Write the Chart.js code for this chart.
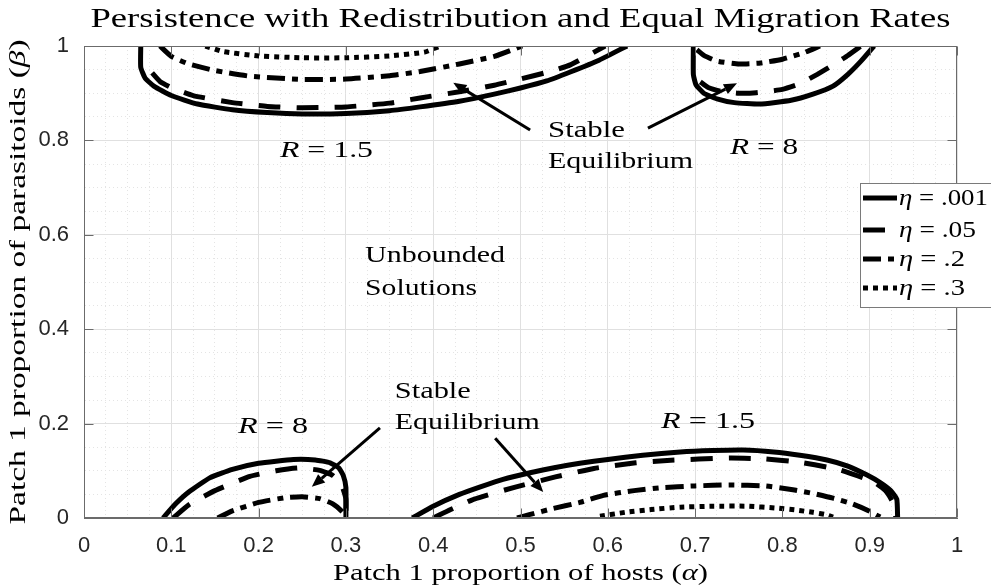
<!DOCTYPE html>
<html>
<head>
<meta charset="utf-8">
<script src="https://cdn.jsdelivr.net/npm/chart.js@4.4.0/dist/chart.umd.min.js"></script>
<style>
  body { margin: 0; background: #fff; }
  canvas { display: block; }
</style>
</head>
<body>
<canvas id="chart" width="991" height="588"></canvas>
<script>
const etaValues = ['.001', '.05', '.2', '.3'];

// upper branch, R = 1.5  [alpha, beta]
const upR15Eta001 = [[0.065,1.0],[0.065,0.955],[0.07,0.932],[0.08,0.915],[0.1,0.895],[0.13,0.877],[0.17,0.865],[0.21,0.859],[0.25,0.856],[0.3,0.857],[0.35,0.863],[0.385,0.871],[0.43,0.883],[0.47,0.898],[0.5,0.911],[0.53,0.926],[0.557,0.945],[0.59,0.97],[0.622,1.0]];
const upR15Eta05 = [[0.078,0.943],[0.087,0.925],[0.1,0.912],[0.125,0.895],[0.17,0.88],[0.21,0.872],[0.25,0.869],[0.3,0.871],[0.35,0.879],[0.385,0.89],[0.43,0.903],[0.47,0.917],[0.5,0.93],[0.53,0.944],[0.557,0.96],[0.597,1.0]];
const upR15Eta2 = [[0.087,1.0],[0.1,0.978],[0.12,0.962],[0.15,0.948],[0.19,0.936],[0.25,0.929],[0.3,0.93],[0.35,0.937],[0.385,0.946],[0.43,0.962],[0.47,0.978],[0.502,1.0]];
const upR15Eta3 = [[0.139,1.0],[0.16,0.988],[0.2,0.979],[0.25,0.975],[0.3,0.975],[0.35,0.979],[0.39,0.987],[0.408,1.0]];

// upper branch, R = 8
const upR8Eta001 = [[0.698,1.0],[0.698,0.94],[0.701,0.918],[0.71,0.9],[0.725,0.888],[0.745,0.88],[0.774,0.877],[0.81,0.885],[0.835,0.898],[0.858,0.915],[0.875,0.94],[0.89,0.968],[0.905,1.0]];
const upR8Eta05 = [[0.706,0.924],[0.715,0.912],[0.73,0.904],[0.75,0.9],[0.77,0.901],[0.8,0.908],[0.82,0.92],[0.84,0.94],[0.86,0.962],[0.875,0.98],[0.89,1.0]];
const upR8Eta2 = [[0.702,0.992],[0.71,0.98],[0.725,0.968],[0.75,0.962],[0.775,0.964],[0.8,0.972],[0.825,0.986],[0.843,1.0]];

// lower branch, R = 8
const lowR8Eta001 = [[0.0905,0.0],[0.105,0.03],[0.12,0.055],[0.144,0.085],[0.17,0.103],[0.2,0.116],[0.24,0.124],[0.265,0.123],[0.282,0.117],[0.292,0.106],[0.297,0.09],[0.3,0.065],[0.3,0.0]];
const lowR8Eta05 = [[0.102,0.0],[0.12,0.028],[0.15,0.058],[0.19,0.088],[0.22,0.1],[0.245,0.106],[0.27,0.101],[0.285,0.09],[0.295,0.07],[0.3,0.04],[0.3,0.0]];
const lowR8Eta2 = [[0.153,0.0],[0.17,0.015],[0.2,0.033],[0.23,0.043],[0.25,0.045],[0.27,0.041],[0.285,0.03],[0.296,0.013],[0.3,0.0]];

// lower branch, R = 1.5
const lowR15Eta001 = [[0.376,0.0],[0.4,0.025],[0.43,0.05],[0.454,0.066],[0.48,0.082],[0.511,0.096],[0.54,0.107],[0.568,0.116],[0.6,0.124],[0.64,0.133],[0.683,0.14],[0.72,0.143],[0.755,0.144],[0.79,0.14],[0.82,0.133],[0.851,0.123],[0.875,0.11],[0.897,0.091],[0.912,0.075],[0.924,0.058],[0.931,0.04],[0.932,0.0]];
const lowR15Eta05 = [[0.4,0.0],[0.42,0.018],[0.447,0.04],[0.493,0.065],[0.54,0.087],[0.584,0.105],[0.632,0.117],[0.668,0.122],[0.74,0.127],[0.78,0.125],[0.82,0.118],[0.866,0.102],[0.904,0.077],[0.918,0.058],[0.926,0.035],[0.93,0.0]];
const lowR15Eta2 = [[0.496,0.0],[0.51,0.007],[0.537,0.02],[0.568,0.033],[0.595,0.048],[0.63,0.058],[0.66,0.064],[0.7,0.068],[0.74,0.07],[0.78,0.068],[0.812,0.06],[0.835,0.052],[0.858,0.042],[0.88,0.03],[0.898,0.016],[0.912,0.002]];
const lowR15Eta3 = [[0.591,0.004],[0.62,0.012],[0.65,0.018],[0.683,0.023],[0.72,0.025],[0.76,0.025],[0.793,0.021],[0.815,0.017],[0.835,0.012],[0.85,0.007],[0.858,0.002]];

// arrows: tail alpha, tail beta, head alpha, head beta
const arrows = [
  [0.511, 0.822, 0.423, 0.922],
  [0.646, 0.826, 0.748, 0.921],
  [0.339, 0.191, 0.261, 0.066],
  [0.471, 0.169, 0.526, 0.055]
];

// text notes: [alpha, beta] of left baseline
const notes = [
  { at: [0.2245, 0.765], parts: [['R', true], [' = 1.5']], w: 93 },
  { at: [0.5315, 0.807], parts: [['Stable']], w: 77 },
  { at: [0.5315, 0.7415], parts: [['Equilibrium']], w: 145 },
  { at: [0.74, 0.771], parts: [['R', true], [' = 8']], w: 68 },
  { at: [0.322, 0.542], parts: [['Unbounded']], w: 140 },
  { at: [0.322, 0.472], parts: [['Solutions']], w: 112 },
  { at: [0.1764, 0.18], parts: [['R', true], [' = 8']], w: 70 },
  { at: [0.356, 0.254], parts: [['Stable']], w: 76 },
  { at: [0.356, 0.189], parts: [['Equilibrium']], w: 145 },
  { at: [0.661, 0.191], parts: [['R', true], [' = 1.5']], w: 94 }
];

const serif = '"Liberation Serif", "Times New Roman", serif';
const sans = '"Liberation Sans", Arial, Helvetica, sans-serif';

const styles = [
  { dash: [] },
  { dash: [22, 16] },
  { dash: [18, 7, 6, 7] },
  { dash: [5, 5] }
];

const curves = [
  [upR15Eta001, 0], [upR15Eta05, 1], [upR15Eta2, 2], [upR15Eta3, 3],
  [upR8Eta001, 0], [upR8Eta05, 1], [upR8Eta2, 2],
  [lowR8Eta001, 0], [lowR8Eta05, 1], [lowR8Eta2, 2],
  [lowR15Eta001, 0], [lowR15Eta05, 1], [lowR15Eta2, 2], [lowR15Eta3, 3]
];

const isMajor = (v, step) => Math.abs(v / step - Math.round(v / step)) < 1e-6;
const fmt = v => (Math.abs(v) < 1e-9 ? '0' : Math.abs(v - 1) < 1e-9 ? '1' : v.toFixed(1));

// draws text pieces (some italic) squeezed/stretched to a given width
function drawText(ctx, parts, x, y, size, width, align) {
  let total = 0;
  const widths = parts.map(([t, it]) => {
    ctx.font = (it ? 'italic ' : '') + size + 'px ' + serif;
    const w = ctx.measureText(t).width;
    total += w;
    return w;
  });
  const sx = width ? width / total : 1;
  ctx.save();
  ctx.translate(x, y);
  ctx.scale(sx, 1);
  ctx.textAlign = 'left';
  ctx.textBaseline = 'alphabetic';
  ctx.fillStyle = '#000';
  let cx = align === 'center' ? -total / 2 : 0;
  parts.forEach(([t, it], i) => {
    ctx.font = (it ? 'italic ' : '') + size + 'px ' + serif;
    ctx.fillText(t, cx, 0);
    cx += widths[i];
  });
  ctx.restore();
}

const decor = {
  id: 'decor',
  afterDraw(chart) {
    const { ctx, chartArea: a, scales: { x, y } } = chart;
    ctx.save();

    // axes box and inward ticks
    ctx.strokeStyle = '#6b6b6b';
    ctx.lineWidth = 1;
    const L = Math.round(a.left) + 0.5, R = Math.round(a.right) - 0.5;
    const T = Math.round(a.top) + 0.5, B = Math.round(a.bottom) - 0.5;
    ctx.strokeRect(L, T, R - L, B - T);
    ctx.beginPath();
    for (let k = 0; k <= 10; k++) {
      const px = Math.round(x.getPixelForValue(k / 10)) + 0.5;
      ctx.moveTo(px, B); ctx.lineTo(px, B - 9);
      ctx.moveTo(px, T); ctx.lineTo(px, T + 9);
    }
    for (let k = 0; k <= 5; k++) {
      const py = Math.round(y.getPixelForValue(k / 5)) + 0.5;
      ctx.moveTo(L, py); ctx.lineTo(L + 9, py);
      ctx.moveTo(R, py); ctx.lineTo(R - 9, py);
    }
    ctx.stroke();

    // arrows
    ctx.strokeStyle = '#000';
    ctx.fillStyle = '#000';
    arrows.forEach(([x0, y0, x1, y1]) => {
      const p0x = x.getPixelForValue(x0), p0y = y.getPixelForValue(y0);
      const p1x = x.getPixelForValue(x1), p1y = y.getPixelForValue(y1);
      const ang = Math.atan2(p1y - p0y, p1x - p0x);
      const hl = 13, hw = 5.5;
      const bx = p1x - hl * Math.cos(ang), by = p1y - hl * Math.sin(ang);
      ctx.lineWidth = 3;
      ctx.beginPath();
      ctx.moveTo(p0x, p0y);
      ctx.lineTo(bx, by);
      ctx.stroke();
      ctx.beginPath();
      ctx.moveTo(p1x, p1y);
      ctx.lineTo(bx + hw * Math.sin(ang), by - hw * Math.cos(ang));
      ctx.lineTo(bx - hw * Math.sin(ang), by + hw * Math.cos(ang));
      ctx.closePath();
      ctx.fill();
    });

    // notes
    notes.forEach(n => {
      drawText(ctx, n.parts, x.getPixelForValue(n.at[0]), y.getPixelForValue(n.at[1]), 23, n.w, 'left');
    });

    // title and axis titles
    drawText(ctx, [['Persistence with Redistribution and Equal Migration Rates']], (a.left + a.right) / 2, 27, 28, 860, 'center');
    drawText(ctx, [['Patch 1 proportion of hosts ('], ['α', true], [')']], (a.left + a.right) / 2, 580, 23, 375, 'center');
    ctx.save();
    ctx.translate(25, (a.top + a.bottom) / 2);
    ctx.rotate(-Math.PI / 2);
    drawText(ctx, [['Patch 1 proportion of parasitoids ('], ['β', true], [')']], 0, 0, 23, 485, 'center');
    ctx.restore();

    // legend
    const lx = a.right - 97, ly = a.top + 137;
    ctx.fillStyle = '#fff';
    ctx.fillRect(lx, ly, 140, 124);
    ctx.strokeStyle = '#7a7a7a';
    ctx.lineWidth = 1;
    ctx.strokeRect(lx + 0.5, ly + 0.5, 140, 124);
    const rowY = [15, 47, 76, 105];
    const textW = [89, 77, 66, 66];
    etaValues.forEach((v, i) => {
      const cy = ly + rowY[i];
      ctx.strokeStyle = '#000';
      ctx.lineWidth = 5;
      ctx.setLineDash(styles[i].dash);
      ctx.beginPath();
      ctx.moveTo(lx + 3, cy);
      ctx.lineTo(lx + 37, cy);
      ctx.stroke();
      ctx.setLineDash([]);
      drawText(ctx, [['η', true], [' = ' + v]], lx + 39, cy + 7, 23, textW[i], 'left');
    });

    ctx.restore();
  }
};

new Chart(document.getElementById('chart').getContext('2d'), {
  type: 'scatter',
  data: {
    datasets: curves.map(([pts, k]) => ({
      data: pts.map(([a, b]) => ({ x: a, y: b })),
      showLine: true,
      borderColor: '#000',
      backgroundColor: '#000',
      borderWidth: 5,
      borderDash: styles[k].dash,
      borderJoinStyle: 'round',
      pointRadius: 0,
      tension: 0.15,
      clip: 0,
      fill: false
    }))
  },
  options: {
    responsive: false,
    animation: false,
    layout: { padding: { top: 46, right: 34, left: 0, bottom: 0 } },
    plugins: { legend: { display: false }, tooltip: { enabled: false }, title: { display: false } },
    scales: {
      x: {
        type: 'linear', min: 0, max: 1,
        ticks: {
          stepSize: 0.025, autoSkip: false, maxRotation: 0, padding: 15, color: '#262626',
          font: { family: sans, size: 22 },
          callback: v => (isMajor(v, 0.1) ? fmt(v) : '')
        },
        grid: {
          drawTicks: false, lineWidth: 1,
          color: c => (c.tick && isMajor(c.tick.value, 0.1) ? '#e0e0e0' : '#e4e4e4')
        },
        border: { color: '#6b6b6b', width: 1, dash: c => (c.tick && !isMajor(c.tick.value, 0.1) ? [1, 3] : []) },
        afterFit: s => { s.height = 70; }
      },
      y: {
        type: 'linear', min: 0, max: 1,
        ticks: {
          stepSize: 0.05, autoSkip: false, padding: 15, color: '#262626',
          font: { family: sans, size: 22 },
          callback: v => (isMajor(v, 0.2) ? fmt(v) : '')
        },
        grid: {
          drawTicks: false, lineWidth: 1,
          color: c => (c.tick && isMajor(c.tick.value, 0.2) ? '#e0e0e0' : '#e4e4e4')
        },
        border: { color: '#6b6b6b', width: 1, dash: c => (c.tick && !isMajor(c.tick.value, 0.2) ? [1, 3] : []) },
        afterFit: s => { s.width = 84; }
      }
    }
  },
  plugins: [decor]
});
</script>
</body>
</html>
